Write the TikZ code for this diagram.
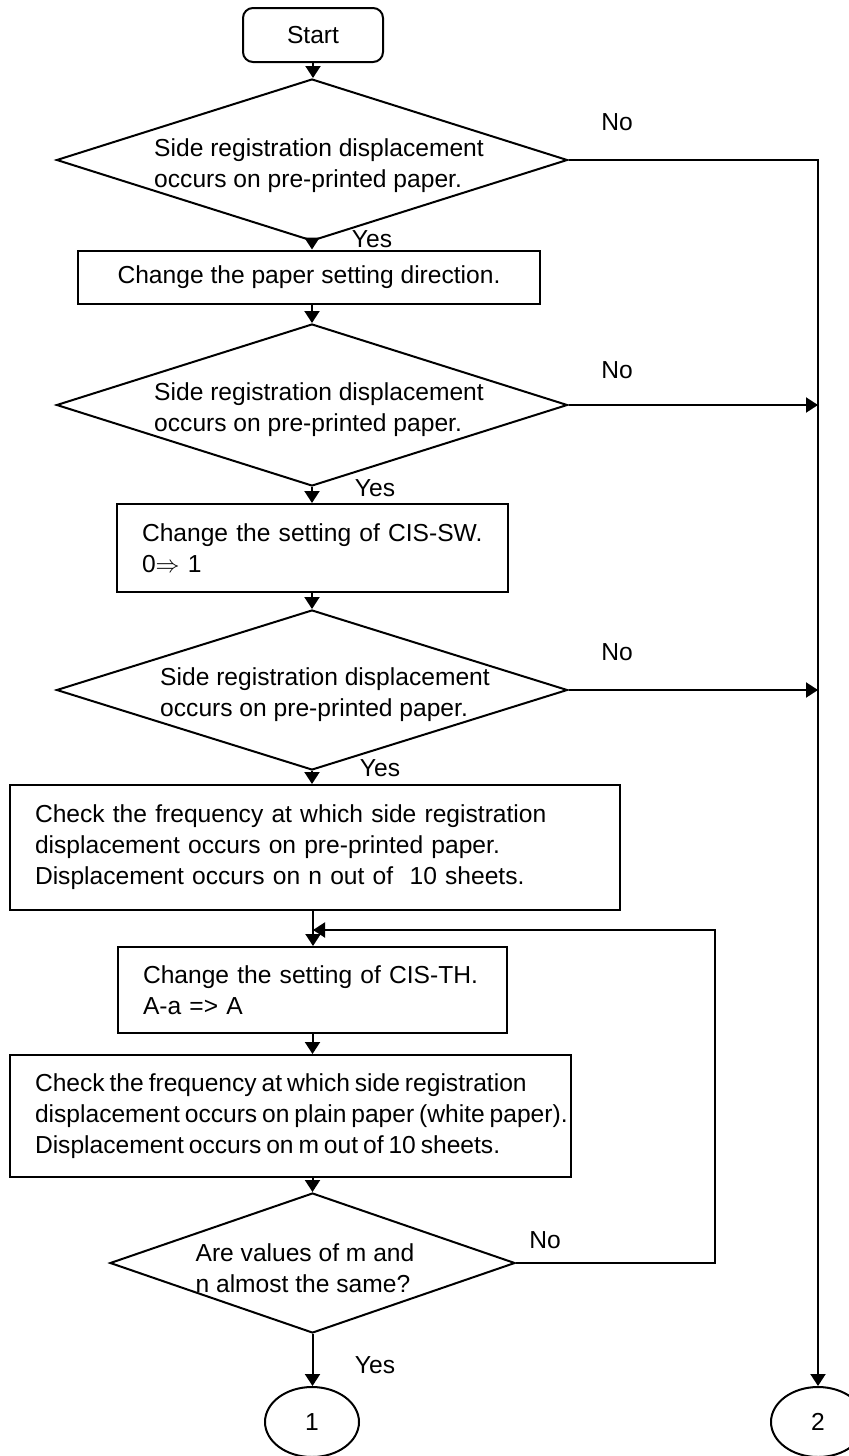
\documentclass[tikz,border=0pt]{standalone}
\usepackage{fontspec}
\setmainfont{Liberation Sans}
\usetikzlibrary{shapes.geometric,arrows.meta}
\begin{document}
\begin{tikzpicture}[x=0.5pt,y=-0.5pt,
  every node/.style={font=\fontsize{12.3}{15.5}\selectfont},
  arr/.style={line width=1pt,-{Triangle[width=7.5pt,length=6pt]}},
  startbox/.style={draw,line width=1pt,rounded corners=5pt,minimum width=70pt,minimum height=27pt,inner sep=0pt},
  procbox/.style={draw,line width=1pt,rectangle,inner xsep=12.5pt,inner ysep=0pt,align=left},
  decision/.style={draw,line width=1pt,diamond,inner sep=0pt},
  dtext/.style={align=left,inner sep=0pt},
  connector/.style={draw,line width=1pt,ellipse,minimum width=47pt,minimum height=35pt,inner sep=0pt},
  lbl/.style={inner sep=0pt}]
\useasboundingbox (0,0) rectangle (849,1456);
\clip (0,0) rectangle (849,1456);

% main column
\node[startbox] (start) at (313,35) {Start};

\node[decision,minimum width=255.5pt,minimum height=81pt] (d1) at (312,160) {};
\node[dtext] (d1t) at (319,166) {Side registration displacement\\occurs on pre-printed paper.};

\node[draw,line width=1pt,rectangle,minimum width=231pt,minimum height=26.5pt,inner sep=0pt] (b1) at (309,277) {Change the paper setting direction.};

\node[decision,minimum width=255.5pt,minimum height=81pt] (d2) at (312,405) {};
\node[dtext] (d2t) at (319,410) {Side registration displacement\\occurs on pre-printed paper.};

\node[procbox,text width=170.5pt,minimum height=44pt] (b2) at (312.5,548) {Change the setting of CIS-SW.\\0$\Rightarrow$ 1};

\node[decision,minimum width=255.5pt,minimum height=80pt] (d3) at (312,690) {};
\node[dtext] (d3t) at (325,695) {Side registration displacement\\occurs on pre-printed paper.};

\node[procbox,text width=280pt,minimum height=62.5pt] (b3) at (315,847.5) {\mbox{Check the frequency at which side registration}\\\mbox{displacement occurs on pre-printed paper.}\\\mbox{Displacement occurs on n out of\ \ 10 sheets.}};

\node[procbox,text width=169.5pt,minimum height=43pt] (b4) at (312.5,990) {Change the setting of CIS-TH.\\A-a => A};

\node[procbox,text width=255.5pt,minimum height=61pt,
      execute at begin node={\spaceskip=0.2em plus 0.1em minus 0.05em}] (b5) at (290.5,1116)
  {\mbox{Check the frequency at which side registration}\\\mbox{displacement occurs on plain paper (white paper).}\\\mbox{Displacement occurs on m out of 10 sheets.}};

\node[decision,minimum width=202.5pt,minimum height=70pt] (d4) at (312.5,1263) {};
\node[dtext] (d4t) at (305,1268) {Are values of m and\\n almost the same?};

\node[connector] (c1) at (312,1422) {1};
\node[connector] (c2) at (818,1422) {2};

\coordinate (merge) at (313,930);
\coordinate (loopturn) at (715,930);

% downward flow
\draw[arr] (start.south) -- (start.south |- d1.north);
\draw[arr] (d1.south) -- (d1.south |- b1.north);
\draw[arr] (b1.south -| d2.north) -- (d2.north);
\draw[arr] (d2.south) -- (d2.south |- b2.north);
\draw[arr] (b2.south -| d3.north) -- (d3.north);
\draw[arr] (d3.south) -- (d3.south |- b3.north);
\draw[arr] (b3.south -| merge) -- (merge |- b4.north);
\draw[arr] (b4.south -| d4.north) -- (d4.north |- b5.north);
\draw[arr] (b5.south -| d4.north) -- (d4.north);
\draw[arr] (d4.south) -- (d4.south |- c1.north);

% "No" branches
\draw[arr] (d1.east) -| (c2.north);
\draw[arr] (d2.east) -- (d2.east -| c2.north);
\draw[arr] (d3.east) -- (d3.east -| c2.north);
\draw[arr] (d4.east) -| (loopturn) -- (merge);

% branch labels
\node[lbl] (y1) at (372,239) {Yes};
\node[lbl] (y2) at (375,488) {Yes};
\node[lbl] (y3) at (380,768) {Yes};
\node[lbl] (y4) at (375,1365) {Yes};
\node[lbl] (n1) at (617,122) {No};
\node[lbl] (n2) at (617,370) {No};
\node[lbl] (n3) at (617,652) {No};
\node[lbl] (n4) at (545,1240) {No};
\end{tikzpicture}
\end{document}
